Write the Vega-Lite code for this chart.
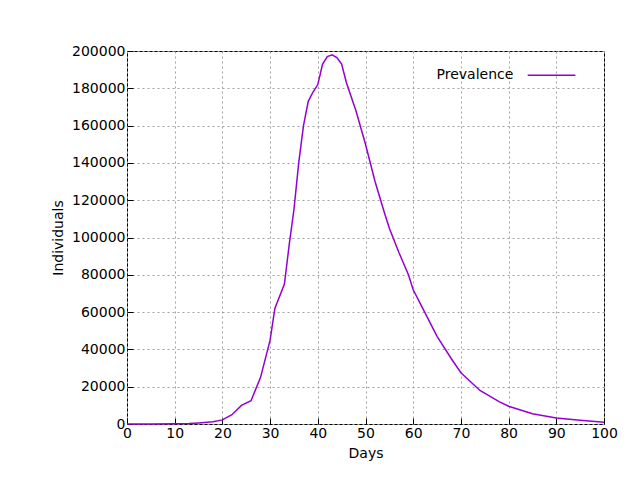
{
"$schema":"https://vega.github.io/schema/vega-lite/v6.json",
"width":477,"height":373,
"autosize":{"type":"none"},
"padding":{"left":127,"top":51,"right":36,"bottom":56},
"background":"white",
"config":{"view":{"stroke":"black","strokeWidth":1},"font":"DejaVu Sans",
"axis":{"domain":false,"gridColor":"#a0a0a0","gridDash":[2,3],"gridOpacity":1,"tickColor":"black","tickSize":-6,"labelFontSize":14,"titleFontSize":14,"titleFontWeight":"normal","labelColor":"black","titleColor":"black","labelPadding":8,"labelFlush":false,"titlePadding":6}},
"data":{"values":[
{"d":0,"v":0},{"d":5,"v":0},{"d":10,"v":100},{"d":13,"v":300},{"d":15,"v":600},{"d":18,"v":1200},{"d":20,"v":2200},{"d":22,"v":5000},{"d":24,"v":10000},{"d":26,"v":12500},{"d":28,"v":25000},{"d":30,"v":45000},{"d":31,"v":62000},{"d":33,"v":75000},{"d":34,"v":96000},{"d":35,"v":115000},{"d":36,"v":140000},{"d":37,"v":160000},{"d":38,"v":173000},{"d":39,"v":178000},{"d":40,"v":182000},{"d":41,"v":193000},{"d":42,"v":197000},{"d":43,"v":198000},{"d":44,"v":196500},{"d":45,"v":193000},{"d":46,"v":183000},{"d":48,"v":168000},{"d":50,"v":150000},{"d":52,"v":130000},{"d":54,"v":113000},{"d":55,"v":105000},{"d":57,"v":92000},{"d":59,"v":80000},{"d":60,"v":72000},{"d":62,"v":62000},{"d":65,"v":47000},{"d":68,"v":35000},{"d":70,"v":27500},{"d":74,"v":18000},{"d":78,"v":12000},{"d":80,"v":9500},{"d":85,"v":5500},{"d":90,"v":3200},{"d":95,"v":2000},{"d":100,"v":1000}
]},
"layer":[
{"mark":{"type":"line","color":"#9400d3","strokeWidth":1.5},
"encoding":{"x":{"field":"d","type":"quantitative","scale":{"domain":[0,100],"nice":false},"axis":{"title":"Days","tickCount":10,"grid":true}},
"y":{"field":"v","type":"quantitative","scale":{"domain":[0,200000],"nice":false},"axis":{"title":"Individuals","tickCount":10,"grid":true,"format":"d"}}}},
{"data":{"values":[{"a":84,"b":94,"y":187000}]},"mark":{"type":"rule","color":"#9400d3","strokeWidth":1.5},
"encoding":{"x":{"field":"a","type":"quantitative"},"x2":{"field":"b"},"y":{"field":"y","type":"quantitative"}}},
{"data":{"values":[{"x":81,"y":187000,"t":"Prevalence"}]},"mark":{"type":"text","align":"right","baseline":"middle","fontSize":14},
"encoding":{"x":{"field":"x","type":"quantitative"},"y":{"field":"y","type":"quantitative"},"text":{"field":"t"}}}
]}
